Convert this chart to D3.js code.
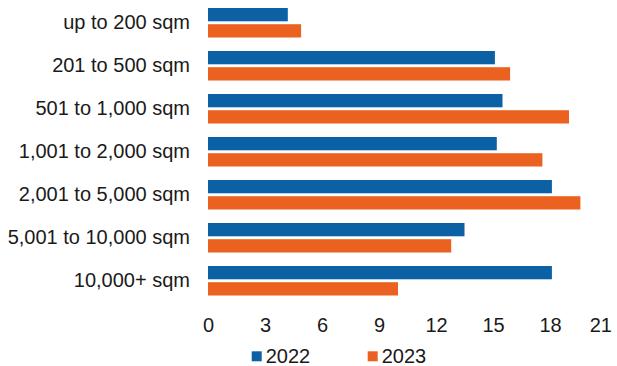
<!DOCTYPE html>
<html>
<head>
<meta charset="utf-8">
<script src="https://cdn.jsdelivr.net/npm/d3@7"></script>
<style>
  html, body { margin: 0; padding: 0; background: #fff; }
  svg { display: block; font-family: "Liberation Sans", Arial, sans-serif; }
</style>
</head>
<body>
<svg id="chart" width="617" height="366"></svg>
<script>
// Unit size bands
const categories = [
  "up to 200 sqm",
  "201 to 500 sqm",
  "501 to 1,000 sqm",
  "1,001 to 2,000 sqm",
  "2,001 to 5,000 sqm",
  "5,001 to 10,000 sqm",
  "10,000+ sqm"
];
const seriesNames = ["2022", "2023"];
const values2022 = [4.2, 15.1, 15.5, 15.2, 18.1, 13.5, 18.1];
const values2023 = [4.9, 15.9, 19.0, 17.6, 19.6, 12.8, 10.0];
const xTicks = [0, 3, 6, 9, 12, 15, 18, 21];
const colors = ["#0b61a4", "#eb6120"];

const seriesValues = [values2022, values2023];
const rows = categories.map((c, i) => ({
  category: c,
  values: seriesNames.map((s, j) => ({ series: s, value: seriesValues[j][i] }))
}));

const width = 617;
const svg = d3.select("#chart");
const fontSize = 20;

const x = d3.scaleLinear().domain([0, 21]).range([208, 607]);

const y = d3.scaleBand()
  .domain(categories)
  .range([1.25, 302.25])
  .paddingInner(0.314)
  .paddingOuter(0.157);

const ySub = d3.scaleBand()
  .domain(seriesNames)
  .range([0, y.bandwidth()])
  .paddingInner(0.18)
  .paddingOuter(0);

const color = d3.scaleOrdinal().domain(seriesNames).range(colors);

// Bars
const groups = svg.append("g")
  .selectAll("g")
  .data(rows)
  .join("g")
  .attr("transform", d => `translate(0,${y(d.category)})`);

groups.selectAll("rect")
  .data(d => d.values)
  .join("rect")
  .attr("x", x(0))
  .attr("y", d => ySub(d.series))
  .attr("width", d => x(d.value) - x(0))
  .attr("height", ySub.bandwidth())
  .attr("fill", d => color(d.series));

// Category labels
const yAxis = d3.axisLeft(y).tickSize(0).tickPadding(0);
svg.append("g")
  .attr("transform", "translate(190,0)")
  .call(yAxis)
  .call(g => g.select(".domain").remove())
  .call(g => g.selectAll("text")
    .attr("font-size", fontSize)
    .attr("font-family", "Liberation Sans, Arial, sans-serif")
    .attr("fill", "#1a1a1a"));

// Value axis labels; keep the last one inside the canvas
const xAxis = d3.axisBottom(x).tickValues(xTicks).tickSize(0).tickPadding(0);
svg.append("g")
  .attr("transform", "translate(0,318)")
  .call(xAxis)
  .call(g => g.select(".domain").remove())
  .call(g => g.selectAll("text")
    .attr("dy", "0.71em")
    .attr("font-size", fontSize)
    .attr("font-family", "Liberation Sans, Arial, sans-serif")
    .attr("fill", "#1a1a1a"))
  .call(g => g.selectAll(".tick").each(function () {
    const t = d3.select(this).select("text");
    const box = this.getBBox();
    const tx = d3.select(this).attr("transform").match(/translate\(([^,]+)/);
    const cx = tx ? +tx[1] : 0;
    const right = cx + box.width / 2;
    const limit = width - 5;
    if (right > limit) t.attr("x", limit - right);
  }));

// Legend
const legendX = [251.7, 367.7];
const legend = svg.append("g")
  .selectAll("g")
  .data(seriesNames)
  .join("g")
  .attr("transform", (d, i) => `translate(${legendX[i]},351.3)`);

legend.append("rect")
  .attr("width", 10)
  .attr("height", 10)
  .attr("fill", d => color(d));

legend.append("text")
  .attr("x", 14)
  .attr("y", 5)
  .attr("dy", "0.35em")
  .attr("font-size", fontSize)
  .attr("fill", "#1a1a1a")
  .text(d => d);
</script>
</body>
</html>
